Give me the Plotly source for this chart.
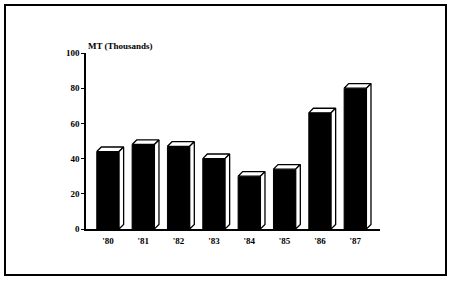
import plotly.graph_objects as go

years = ["'80", "'81", "'82", "'83", "'84", "'85", "'86", "'87"]
values = [44, 48, 47, 40, 30, 34, 66, 80]
y_ticks = [0, 20, 40, 60, 80, 100]

bar_w = 0.63
dx = 0.13   # depth offset in x units
dy = 2.6    # depth offset in y units

xs = list(range(len(years)))
fig = go.Figure()

fig.add_trace(go.Bar(x=xs, y=values, width=bar_w, marker=dict(color="black", line=dict(color="black", width=1)),
                     showlegend=False, hoverinfo="skip"))

for x, v in zip(xs, values):
    l, r = x - bar_w / 2, x + bar_w / 2
    # top face
    fig.add_trace(go.Scatter(x=[l, r, r + dx, l + dx, l], y=[v, v, v + dy, v + dy, v],
                             fill="toself", fillcolor="white", mode="lines",
                             line=dict(color="black", width=1.3), showlegend=False, hoverinfo="skip"))
    # side face
    fig.add_trace(go.Scatter(x=[r, r + dx, r + dx, r, r], y=[0, dy, v + dy, v, 0],
                             fill="toself", fillcolor="white", mode="lines",
                             line=dict(color="black", width=1.3), showlegend=False, hoverinfo="skip"))

font = dict(family="Liberation Serif", size=9, color="black", weight="bold")

fig.update_layout(
    width=450, height=281,
    margin=dict(l=86, r=70, t=53, b=52),
    paper_bgcolor="white", plot_bgcolor="white",
    font=font,
    xaxis=dict(range=[-0.62, 7.7], tickvals=xs, ticktext=years, showgrid=False, zeroline=False,
               showline=True, linecolor="black", linewidth=1.5, ticks="", tickfont=font,
               ticklabelstandoff=2),
    yaxis=dict(range=[0, 100], tickvals=y_ticks, showgrid=False, zeroline=False,
               showline=True, linecolor="black", linewidth=1.5, ticks="outside", ticklen=3,
               tickcolor="black", tickfont=font),
    annotations=[dict(text="MT (Thousands)", xref="paper", yref="paper", x=0, y=1.0,
                      xanchor="left", yanchor="bottom", showarrow=False, font=font, yshift=0)],
    shapes=[dict(type="rect", xref="paper", yref="paper", x0=-81/294, x1=360/294,
                 y0=-46/176, y1=(53 - 5) / 176 + 1, line=dict(color="black", width=2))],
)

fig.write_html("out.html")
